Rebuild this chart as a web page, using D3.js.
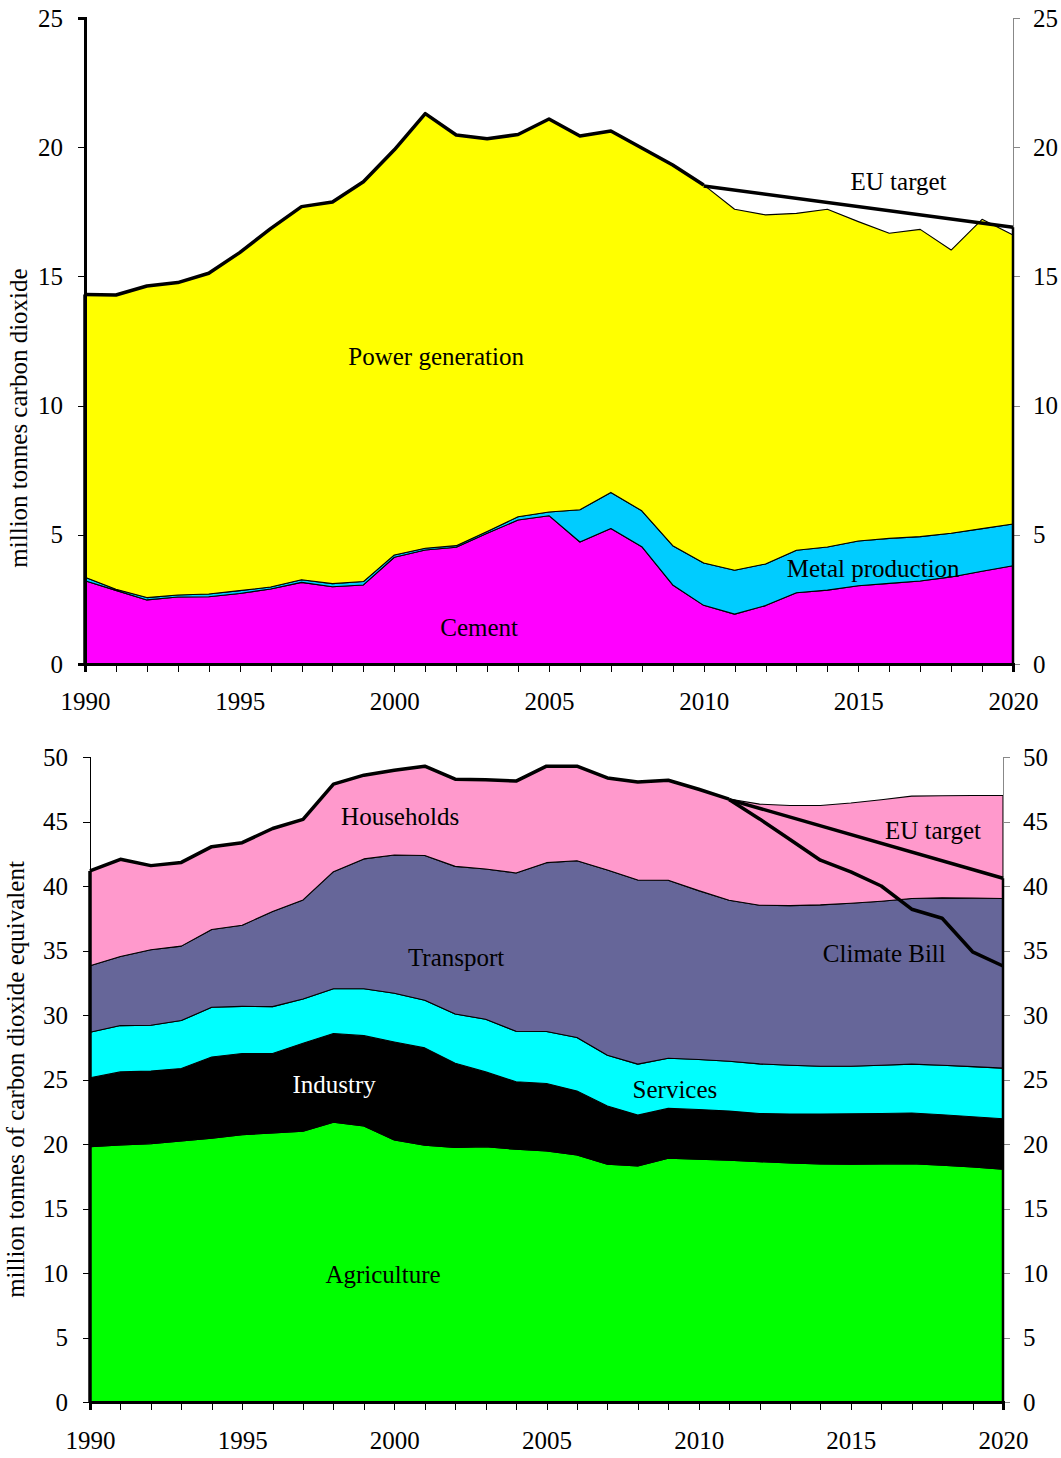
<!DOCTYPE html>
<html>
<head>
<meta charset="utf-8">
<script src="https://cdn.jsdelivr.net/npm/d3@7"></script>
<style>
  body { margin: 0; background: #fff; }
  svg text { font-family: "Liberation Serif", "Times New Roman", serif; font-size: 25px; fill: #000; }
</style>
</head>
<body>
<svg id="chart" width="1061" height="1458"></svg>
<script>
// years shared by both panels
const YEARS = d3.range(1990, 2021);
const X_TICKS = [1990, 1995, 2000, 2005, 2010, 2015, 2020];

// --- top panel: million tonnes carbon dioxide ---
const CEMENT = [3.22, 2.85, 2.48, 2.59, 2.60, 2.73, 2.90, 3.16, 2.99, 3.06, 4.13, 4.41, 4.52, 5.06, 5.57,
  5.74, 4.72, 5.24, 4.54, 3.06, 2.27, 1.93, 2.26, 2.76, 2.86, 3.03, 3.12, 3.21, 3.37, 3.59, 3.80];
const METAL = [0.14, 0.04, 0.09, 0.08, 0.11, 0.11, 0.08, 0.10, 0.12, 0.13, 0.09, 0.07, 0.06, 0.07, 0.13,
  0.14, 1.25, 1.40, 1.39, 1.52, 1.64, 1.70, 1.61, 1.64, 1.67, 1.73, 1.74, 1.72, 1.69, 1.65, 1.62];
const POWER = [10.94, 11.39, 12.06, 12.09, 12.41, 13.08, 13.87, 14.44, 14.77, 15.47, 15.68, 16.82, 15.89, 15.20, 14.79,
  15.21, 14.46, 13.99, 14.04, 14.73, 14.63, 13.97, 13.51, 13.04, 13.07, 12.36, 11.81, 11.89, 10.96, 11.97, 11.18];
const TOP_EU_TARGET = [[2010, 18.5], [2020, 16.9]];
const TOP_HIST_END = 2010;
const TOP_Y_TICKS = [0, 5, 10, 15, 20, 25];

// --- bottom panel: million tonnes of carbon dioxide equivalent ---
const AGRICULTURE = [19.79, 19.92, 20.02, 20.23, 20.44, 20.72, 20.85, 21.00, 21.68, 21.39, 20.31, 19.90, 19.74, 19.79, 19.59,
  19.46, 19.15, 18.43, 18.30, 18.90, 18.82, 18.74, 18.63, 18.53, 18.45, 18.43, 18.45, 18.48, 18.35, 18.22, 18.04];
const INDUSTRY = [5.34, 5.67, 5.63, 5.62, 6.31, 6.29, 6.16, 6.81, 6.88, 7.01, 7.60, 7.55, 6.52, 5.80, 5.23,
  5.23, 4.95, 4.51, 3.94, 3.86, 3.86, 3.81, 3.74, 3.79, 3.87, 3.91, 3.92, 3.92, 3.92, 3.89, 3.92];
const SERVICES = [3.53, 3.59, 3.55, 3.72, 3.85, 3.66, 3.64, 3.43, 3.48, 3.64, 3.77, 3.69, 3.82, 4.08, 3.92,
  4.03, 4.15, 3.94, 3.95, 3.89, 3.87, 3.87, 3.84, 3.79, 3.71, 3.69, 3.74, 3.79, 3.84, 3.89, 3.92];
const TRANSPORT = [5.16, 5.36, 5.86, 5.77, 6.03, 6.29, 7.37, 7.68, 9.07, 10.06, 10.72, 11.23, 11.44, 11.65, 12.27,
  13.09, 13.71, 14.36, 14.28, 13.80, 13.09, 12.48, 12.30, 12.37, 12.51, 12.63, 12.71, 12.84, 12.97, 13.06, 13.15];
const HOUSEHOLDS = [7.35, 7.53, 6.52, 6.49, 6.42, 6.40, 6.44, 6.24, 6.79, 6.49, 6.58, 6.92, 6.76, 6.91, 7.12,
  7.48, 7.33, 7.14, 7.60, 7.75, 7.86, 7.84, 7.84, 7.76, 7.70, 7.77, 7.86, 7.94, 7.92, 7.96, 7.99];
const BOT_EU_TARGET = [[2011, 46.7], [2020, 40.6]];
const CLIMATE_BILL = [[2011, 46.7], [2012, 45.2], [2013, 43.6], [2014, 42.0], [2015, 41.1], [2016, 40.0],
  [2017, 38.2], [2018, 37.5], [2019, 34.9], [2020, 33.8]];
const BOT_HIST_END = 2011;
const BOT_Y_TICKS = [0, 5, 10, 15, 20, 25, 30, 35, 40, 45, 50];

const svg = d3.select("#chart");

function buildRows(series) {
    return YEARS.map(function(yr, i) {
        var row = { year: yr };
        series.forEach(function(s) { row[s.key] = s.values[i]; });
        return row;
    });
}

function drawPanel(cfg) {
    var g = svg.append("g");
    var x = d3.scaleLinear().domain([1990, 2020]).range([cfg.left, cfg.right]);
    var y = d3.scaleLinear().domain([0, cfg.yMax]).range([cfg.bottom, cfg.top]);

    var rows = buildRows(cfg.series);
    var stack = d3.stack().keys(cfg.series.map(function(s) { return s.key; }));
    var layers = stack(rows);

    var area = d3.area()
        .x(function(d) { return x(d.data.year); })
        .y0(function(d) { return y(d[0]); })
        .y1(function(d) { return y(d[1]); });

    g.selectAll(".layer")
        .data(layers)
        .enter().append("path")
        .attr("class", "layer")
        .attr("fill", function(d, i) { return cfg.series[i].color; })
        .attr("stroke", "#000")
        .attr("stroke-width", 1.1)
        .attr("stroke-linejoin", "round")
        .attr("d", area);

    var totals = rows.map(function(r) {
        return [r.year, d3.sum(cfg.series, function(s) { return r[s.key]; })];
    });
    var line = d3.line()
        .x(function(d) { return x(d[0]); })
        .y(function(d) { return y(d[1]); });

    // historic total, drawn heavy
    g.append("path")
        .attr("fill", "none").attr("stroke", "#000").attr("stroke-width", 3.5)
        .attr("stroke-linejoin", "round")
        .attr("d", line(totals.filter(function(d) { return d[0] <= cfg.histEnd; })));

    // left edge of the stack
    g.append("line")
        .attr("x1", x(1990)).attr("x2", x(1990))
        .attr("y1", y(0)).attr("y2", y(totals[0][1]))
        .attr("stroke", "#000").attr("stroke-width", 3.5);

    // y axes
    var leftAxis = d3.axisLeft(y).tickValues(cfg.yTicks).tickSize(7).tickPadding(15);
    var la = g.append("g").attr("transform", "translate(" + x(1990) + ",0)").call(leftAxis);
    la.select(".domain").attr("stroke", "#000").attr("stroke-width", cfg.leftAxisWidth);
    la.selectAll(".tick line").attr("stroke", "#000");

    var rightAxis = d3.axisRight(y).tickValues(cfg.yTicks).tickSize(7).tickPadding(13);
    var ra = g.append("g").attr("transform", "translate(" + x(2020) + ",0)").call(rightAxis);
    ra.select(".domain").attr("stroke", "#888").attr("stroke-width", 1.5);
    ra.selectAll(".tick line").attr("stroke", "#888");

    // target / projection lines
    cfg.targets.forEach(function(t) {
        g.append("path")
            .attr("fill", "none").attr("stroke", "#000").attr("stroke-width", 3.5)
            .attr("stroke-linejoin", "round")
            .attr("d", line(t));
    });

    // right edge up to the EU target end point
    var euEnd = cfg.targets[0][cfg.targets[0].length - 1];
    g.append("line")
        .attr("x1", x(2020)).attr("x2", x(2020))
        .attr("y1", y(0)).attr("y2", y(euEnd[1]))
        .attr("stroke", "#000").attr("stroke-width", 2.5);

    // x axis
    var xAxis = d3.axisBottom(x).tickValues(YEARS).tickSize(8).tickPadding(cfg.xPad)
        .tickFormat(function(d) { return X_TICKS.indexOf(d) >= 0 ? d : ""; });
    var xa = g.append("g").attr("transform", "translate(0," + y(0) + ")").call(xAxis);
    xa.select(".domain").attr("stroke", "#000").attr("stroke-width", 3.5);
    xa.selectAll(".tick line").attr("stroke", "#000");

    svg.selectAll(".tick text").attr("font-size", null).attr("font-family", null);
    g.selectAll(".domain, .tick line").attr("shape-rendering", "crispEdges");

    // series labels
    cfg.labels.forEach(function(l) {
        g.append("text")
            .attr("x", x(l.year)).attr("y", y(l.value))
            .attr("text-anchor", "middle")
            .style("fill", l.color || "#000")
            .text(l.text);
    });

    // axis title
    g.append("text")
        .attr("transform", "translate(" + cfg.titleX + "," + ((cfg.top + cfg.bottom) / 2 + cfg.titleShift) + ") rotate(-90)")
        .attr("text-anchor", "middle")
        .text(cfg.title);
}

drawPanel({
    left: 85, right: 1013, top: 18, bottom: 664, yMax: 25,
    yTicks: TOP_Y_TICKS, histEnd: TOP_HIST_END, leftAxisWidth: 3, xPad: 20,
    series: [
        { key: "cement", values: CEMENT, color: "#ff00ff" },
        { key: "metal", values: METAL, color: "#00ccff" },
        { key: "power", values: POWER, color: "#ffff00" }
    ],
    targets: [TOP_EU_TARGET],
    labels: [
        { text: "Power generation", year: 2001.35, value: 11.57 },
        { text: "Cement", year: 2002.74, value: 1.08 },
        { text: "Metal production", year: 2015.48, value: 3.37 },
        { text: "EU target", year: 2016.3, value: 18.34 }
    ],
    title: "million tonnes carbon dioxide", titleX: 27, titleShift: 77
});

drawPanel({
    left: 90, right: 1003, top: 757, bottom: 1402, yMax: 50,
    yTicks: BOT_Y_TICKS, histEnd: BOT_HIST_END, leftAxisWidth: 1.2, xPad: 21,
    series: [
        { key: "agriculture", values: AGRICULTURE, color: "#00ff00" },
        { key: "industry", values: INDUSTRY, color: "#000000" },
        { key: "services", values: SERVICES, color: "#00ffff" },
        { key: "transport", values: TRANSPORT, color: "#666699" },
        { key: "households", values: HOUSEHOLDS, color: "#ff99cc" }
    ],
    targets: [BOT_EU_TARGET, CLIMATE_BILL],
    labels: [
        { text: "Households", year: 2000.19, value: 44.75 },
        { text: "Transport", year: 2002.03, value: 33.77 },
        { text: "Industry", year: 1998.02, value: 23.94, color: "#fff" },
        { text: "Services", year: 2009.22, value: 23.56 },
        { text: "Agriculture", year: 1999.63, value: 9.25 },
        { text: "EU target", year: 2017.7, value: 43.67 },
        { text: "Climate Bill", year: 2016.1, value: 34.07 }
    ],
    title: "million tonnes of carbon dioxide equivalent", titleX: 24, titleShift: 0
});
</script>
</body>
</html>
